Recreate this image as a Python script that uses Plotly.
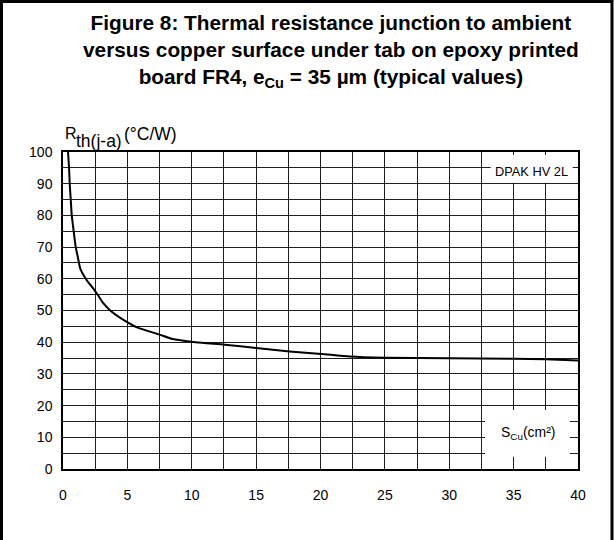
import plotly.graph_objects as go

# Data
s_cu = [0.39, 0.47, 0.52, 0.6, 0.68, 0.83, 0.99, 1.17, 1.35, 1.82, 2.41, 2.72, 3.11,
        3.76, 4.6, 5.8, 7.5, 8.5, 10.3, 12.56, 15.0, 17.6, 20.07, 22.27, 25.0, 30.0,
        35.0, 37.5, 40.0]
rth = [100, 95, 90, 85, 80, 75, 70, 66.5, 63.1, 59.7, 56.6, 54.8, 52.4,
       49.7, 47.3, 44.6, 42.4, 41.0, 40.0, 39.2, 38.2, 37.1, 36.3, 35.5, 35.1, 34.9,
       34.8, 34.6, 34.2]
x_ticks = [0, 5, 10, 15, 20, 25, 30, 35, 40]
y_ticks = [0, 10, 20, 30, 40, 50, 60, 70, 80, 90, 100]

W, H = 614, 540
L, R, T, B = 63, 578, 152, 469


def px(X):
    return (X - L) / (R - L)


def py(Y):
    return (B - Y) / (B - T)


FONT = "Liberation Sans, Arial, sans-serif"

fig = go.Figure()
fig.add_trace(go.Scatter(x=s_cu, y=rth, mode="lines",
                         line=dict(color="black", width=2, shape="spline", smoothing=0.6),
                         hoverinfo="skip", showlegend=False))

grid = "#1e1e1e"
fig.update_xaxes(range=[0, 40], tickvals=x_ticks, showgrid=True, gridcolor=grid, gridwidth=1,
                 minor=dict(dtick=2.5, showgrid=True, gridcolor=grid, gridwidth=1),
                 showline=True, linecolor="black", linewidth=1.5, mirror=True,
                 zeroline=False, ticks="", ticklabelstandoff=12,
                 tickfont=dict(family=FONT, size=14, color="black"))
fig.update_yaxes(range=[0, 100], tickvals=y_ticks, showgrid=True, gridcolor=grid, gridwidth=1,
                 minor=dict(dtick=5, showgrid=True, gridcolor=grid, gridwidth=1),
                 showline=True, linecolor="black", linewidth=1.5, mirror=True,
                 zeroline=False, ticks="", ticklabelstandoff=6,
                 tickfont=dict(family=FONT, size=14, color="black"))

shapes = [
    # white boxes interrupting the grid
    dict(type="rect", xref="paper", yref="paper", x0=px(490.7), x1=px(572.7),
         y0=py(182.7), y1=py(155), fillcolor="white", line=dict(width=0), layer="above"),
    dict(type="rect", xref="paper", yref="paper", x0=px(485), x1=px(570),
         y0=py(456.7), y1=py(410), fillcolor="white", line=dict(width=0), layer="above"),
    # outer frame (open at the bottom)
    dict(type="rect", xref="paper", yref="paper", x0=px(1.5), x1=px(612), y0=py(560),
         y1=py(1.5), line=dict(color="black", width=3), fillcolor="rgba(0,0,0,0)"),
]

annotations = [
    dict(text="<b>Figure 8: Thermal resistance junction to ambient<br>"
              "versus copper surface under tab on epoxy printed<br>"
              "board FR4, e<sub>Cu</sub> = 35 µm (typical values)</b>",
         xref="paper", yref="paper", x=px(331), y=py(9), xanchor="center", yanchor="top",
         showarrow=False, align="center", font=dict(family=FONT, size=20.8, color="black")),
    dict(text="R", xref="paper", yref="paper", x=px(63), y=py(134), xanchor="left",
         yanchor="middle", showarrow=False, font=dict(family=FONT, size=16, color="black")),
    dict(text="th(j-a)", xref="paper", yref="paper", x=px(73.5), y=py(141), xanchor="left",
         yanchor="middle", showarrow=False, font=dict(family=FONT, size=17.5, color="black")),
    dict(text="(°C/W)", xref="paper", yref="paper", x=px(122), y=py(134), xanchor="left",
         yanchor="middle", showarrow=False, font=dict(family=FONT, size=17.5, color="black")),
    dict(text="DPAK HV 2L", xref="paper", yref="paper", x=px(531.7), y=py(171), xanchor="center",
         yanchor="middle", showarrow=False, font=dict(family=FONT, size=12.8, color="black")),
    dict(text="S<sub>Cu</sub>(cm²)", xref="paper", yref="paper", x=px(528.3), y=py(433),
         xanchor="center", yanchor="middle", showarrow=False,
         font=dict(family=FONT, size=14, color="black")),
]

fig.update_layout(width=W, height=H, margin=dict(l=L, r=W - R, t=T, b=H - B),
                  paper_bgcolor="white", plot_bgcolor="white",
                  shapes=shapes, annotations=annotations, showlegend=False)

fig.write_html("out.html", config={"displayModeBar": False},
               post_script="document.body.style.margin='0';document.body.style.overflow='hidden';")
